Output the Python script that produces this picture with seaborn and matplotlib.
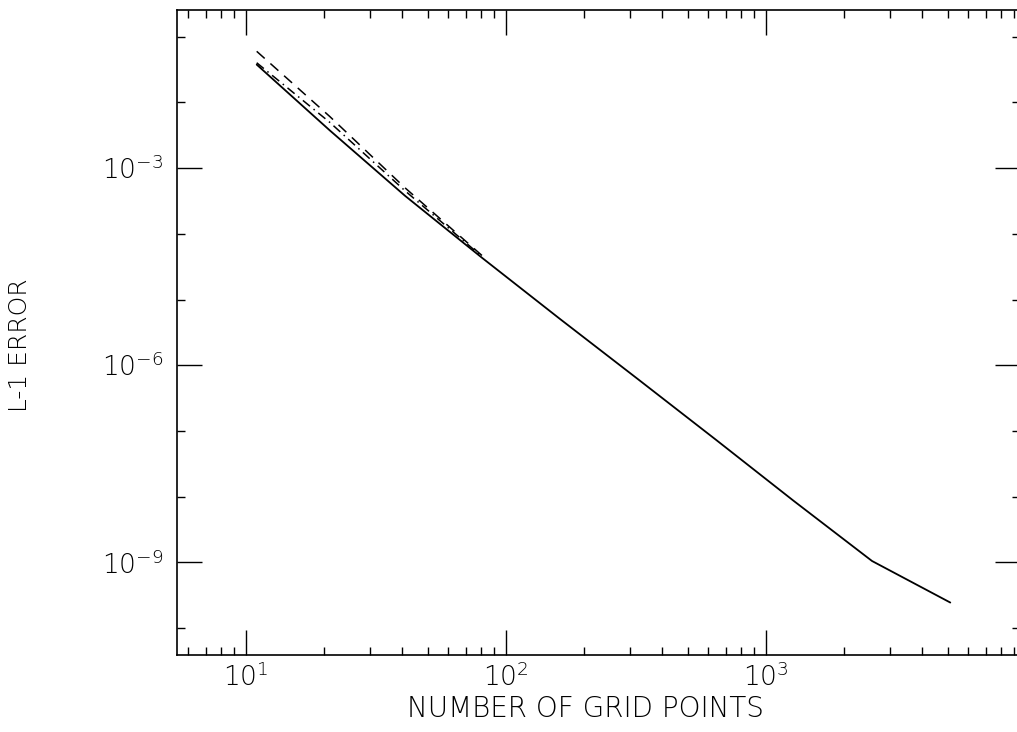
import numpy as np
import pandas as pd
import matplotlib
matplotlib.use("Agg")
import matplotlib.pyplot as plt
import matplotlib.ticker as mticker
import seaborn as sns

# ---- data ----
grid_points = [11, 21, 41, 81, 161, 321, 641, 1281, 2561, 5121]
error_solid = [3.75e-2, 3.75e-3, 3.76e-4, 4.3e-5, 5.1e-6, 6.2e-7, 7.4e-8, 8.6e-9, 1.05e-9, 2.45e-10]

grid_points_short = [11, 21, 41, 81]
error_dashed = [5.97e-2, 6.1e-3, 4.97e-4, 4.65e-5]
error_dashdot = [4.0e-2, 4.97e-3, 4.48e-4, 4.48e-5]

x_major = [10, 100, 1000]
x_labels = [r"$\mathrm{10^{1}}$", r"$\mathrm{10^{2}}$", r"$\mathrm{10^{3}}$"]
y_major = [1e-9, 1e-6, 1e-3]
y_labels = [r"$\mathrm{10^{-9}}$", r"$\mathrm{10^{-6}}$", r"$\mathrm{10^{-3}}$"]

sns.set_style("ticks")
plt.rcParams["font.family"] = ["DejaVu Sans"]
plt.rcParams["mathtext.fontset"] = "custom"
plt.rcParams["mathtext.rm"] = "DejaVu Sans:light"
plt.rcParams["mathtext.it"] = "DejaVu Sans:light"
plt.rcParams["mathtext.bf"] = "DejaVu Sans:light"
plt.rcParams["mathtext.sf"] = "DejaVu Sans:light"
plt.rcParams["text.color"] = "black"
plt.rcParams["axes.labelcolor"] = "black"
plt.rcParams["xtick.color"] = "black"
plt.rcParams["ytick.color"] = "black"

W, H = 1017, 732
fig = plt.figure(figsize=(W / 100, H / 100), dpi=100)
ax = fig.add_axes([177 / W, (H - 655) / H, 843 / W, 645 / H])

df_solid = pd.DataFrame({"n": grid_points, "err": error_solid})
df_dash = pd.DataFrame({"n": grid_points_short, "err": error_dashed})
df_dd = pd.DataFrame({"n": grid_points_short, "err": error_dashdot})

sns.lineplot(data=df_solid, x="n", y="err", color="black", linewidth=1.3, ax=ax)
sns.lineplot(data=df_dash, x="n", y="err", color="black", linewidth=1.1,
             linestyle=(0, (7, 5)), ax=ax)
sns.lineplot(data=df_dd, x="n", y="err", color="black", linewidth=1.1,
             linestyle=(0, (6, 3, 1, 3)), ax=ax)

ax.set_xscale("log")
ax.set_yscale("log")
ax.set_xlim(5.43, 9310 * 1.02)
ax.set_ylim(3.9e-11, 0.254)

ax.xaxis.set_major_locator(mticker.FixedLocator(x_major))
ax.xaxis.set_major_formatter(mticker.FixedFormatter(x_labels))
ax.xaxis.set_minor_locator(mticker.LogLocator(base=10, subs=np.arange(2, 10), numticks=20))
ax.xaxis.set_minor_formatter(mticker.NullFormatter())

ax.yaxis.set_major_locator(mticker.FixedLocator(y_major))
ax.yaxis.set_major_formatter(mticker.FixedFormatter(y_labels))
ax.yaxis.set_minor_locator(mticker.LogLocator(base=10, subs=[1.0], numticks=30))
ax.yaxis.set_minor_formatter(mticker.NullFormatter())

for s in ax.spines.values():
    s.set_linewidth(1.2)
    s.set_color("black")

ax.tick_params(which="both", direction="in", top=True, right=True,
               color="black", width=1.0)
ax.tick_params(which="major", length=18, labelsize=19)
ax.tick_params(which="minor", length=6)
ax.tick_params(axis="x", which="major", pad=6)
ax.tick_params(axis="y", which="major", pad=10)

ax.set_xlabel("NUMBER OF GRID POINTS", fontsize=20, fontweight="light")
ax.set_ylabel("L-1 ERROR", fontsize=18, fontweight="light")
ax.xaxis.set_label_coords(408 / 843, -0.062)
ax.yaxis.set_label_coords(-0.172, 0.48)

fig.savefig("out.png", dpi=100, facecolor="white")
